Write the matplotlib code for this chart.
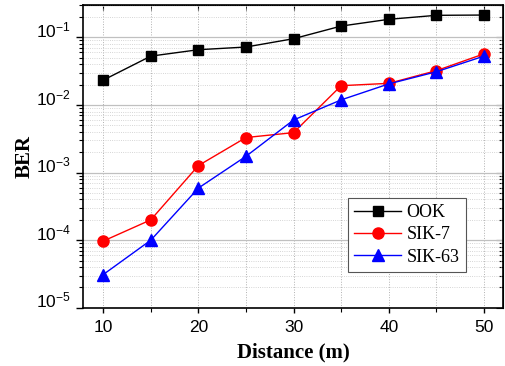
import numpy as np
import matplotlib
matplotlib.use("Agg")
from matplotlib import pyplot as plt, ticker

plt.rcParams['font.family'] = ['Liberation Sans', 'DejaVu Sans']
plt.rcParams['mathtext.default'] = 'regular'

distance = [10, 15, 20, 25, 30, 35, 40, 45, 50]
ook = [0.0233, 0.0528, 0.0657, 0.072, 0.0956, 0.147, 0.185, 0.212, 0.214]
sik7 = [9.7e-5, 2.0e-4, 1.27e-3, 3.3e-3, 3.9e-3, 0.0193, 0.0209, 0.0322, 0.057]
sik63 = [3.1e-5, 1.0e-4, 5.9e-4, 1.74e-3, 6.0e-3, 0.0119, 0.0205, 0.031, 0.0528]
xticks = [10, 20, 30, 40, 50]
yticks = [1e-5, 1e-4, 1e-3, 1e-2, 1e-1]

fig = plt.figure(figsize=(5.05, 3.66), dpi=100)
ax = fig.add_axes([0.164, 0.159, 0.832, 0.827])

ax.plot(distance, ook, '-s', color='black', lw=1, ms=7, label='OOK')
ax.plot(distance, sik7, '-o', color='red', lw=1, ms=8, label='SIK-7')
ax.plot(distance, sik63, '-^', color='blue', lw=1, ms=8, label='SIK-63')

ax.set_yscale('log')
ax.set_ylim(1e-5, 0.30)
ax.set_xlim(7.86, 52.0)
ax.set_xticks(xticks)
ax.xaxis.set_minor_locator(ticker.MultipleLocator(5))
ax.set_yticks(yticks)
ax.yaxis.set_major_formatter(ticker.LogFormatterMathtext())
ax.yaxis.set_minor_locator(ticker.LogLocator(base=10, subs=np.arange(2, 10), numticks=20))
ax.yaxis.set_minor_formatter(ticker.NullFormatter())

# grid: solid major y, dotted everything else
ax.grid(True, which='major', axis='y', color='#c0c0c0', lw=0.9, ls='-')
ax.grid(True, which='minor', axis='y', color='#c8c8c8', lw=0.6, ls=':')
ax.grid(True, which='both', axis='x', color='#b0b0b0', lw=0.7, ls=':')
ax.set_axisbelow(True)

ax.tick_params(axis='both', which='major', labelsize=12.5, width=1)
ax.tick_params(axis='x', which='major', length=3.5, pad=5)
ax.tick_params(axis='x', which='minor', length=3)
ax.tick_params(axis='y', which='major', length=5)
ax.tick_params(axis='y', which='minor', length=3)
ax.tick_params(which='both', direction='out')
ax.tick_params(which='minor', width=0.8)

# inward ticks on the top and right spines
sec_x = ax.secondary_xaxis('top')
sec_x.set_xticks(xticks)
sec_x.xaxis.set_minor_locator(ticker.MultipleLocator(5))
sec_x.tick_params(which='both', direction='in', labeltop=False, length=3.5)
sec_y = ax.secondary_yaxis('right')
sec_y.set_yticks(yticks)
sec_y.yaxis.set_minor_locator(ticker.LogLocator(base=10, subs=np.arange(2, 10), numticks=20))
sec_y.tick_params(which='both', direction='in', labelright=False)
sec_y.tick_params(which='major', length=5)
sec_y.tick_params(which='minor', length=3, width=0.8)
for sp in ax.spines.values():
    sp.set_linewidth(1.2)

for lab in ax.get_yticklabels():
    lab.set_va('baseline')

ax.set_xlabel('Distance (m)', family='Liberation Serif', fontweight='bold', fontsize=15, labelpad=6)
ax.set_ylabel('BER', family='Liberation Serif', fontweight='bold', fontsize=15, labelpad=1)

leg = ax.legend(loc='lower right', bbox_to_anchor=(0.912, 0.118), prop={'family': 'Liberation Serif', 'size': 13},
                fancybox=False, edgecolor='#555555', framealpha=1, handlelength=2.6,
                borderpad=0.35, labelspacing=0.3, handletextpad=0.3, borderaxespad=0)
leg.get_frame().set_linewidth(0.8)

fig.savefig('out.png', dpi=100)
